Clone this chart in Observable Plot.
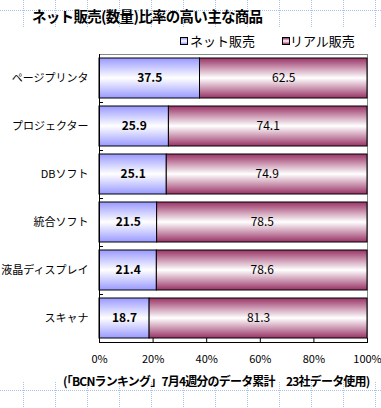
<!DOCTYPE html>
<html>
<head>
<meta charset="utf-8">
<script src="https://cdn.jsdelivr.net/npm/d3@7"></script>
<script src="https://cdn.jsdelivr.net/npm/@observablehq/plot@0.6"></script>
<style>
  html, body { margin: 0; padding: 0; background: #fff; }
  #wrap {
    position: relative; width: 381px; height: 408px; overflow: hidden;
    font-family: "Noto Sans CJK JP", sans-serif; color: #000;
    background-image:
      url("data:image/svg+xml,%3Csvg xmlns='http://www.w3.org/2000/svg' width='32' height='2'%3E%3Crect x='23' y='0' width='1' height='1' fill='%23a9c2ee'/%3E%3C/svg%3E"),
      url("data:image/svg+xml,%3Csvg xmlns='http://www.w3.org/2000/svg' width='2' height='20'%3E%3Crect x='0' y='10' width='1' height='1' fill='%23a9c2ee'/%3E%3C/svg%3E");
    background-repeat: repeat, repeat;
  }
  #sheet { position: absolute; left: 0; top: 28px; width: 381px; height: 354px; background: #fff; }
  #chart { position: absolute; left: 0; top: 0; }
  #title { position: absolute; left: 32px; top: 8px; font-size: 14.5px; font-weight: bold; line-height: 15px; white-space: nowrap; letter-spacing: -0.7px; }
  .leg { position: absolute; top: 34px; font-size: 13px; line-height: 13px; white-space: nowrap; }
  .sw { position: absolute; top: 37px; width: 6px; height: 6px; border: 1px solid #000; }
  #caption { position: absolute; left: 63px; top: 374px; font-size: 12px; font-weight: bold; line-height: 13px; white-space: nowrap; letter-spacing: -0.8px; }
</style>
</head>
<body>
<div id="wrap">
  <div id="sheet"></div>
  <div id="chart"></div>
  <div id="title"></div>
  <div class="sw" id="sw0"></div><div class="leg" id="lg0"></div>
  <div class="sw" id="sw1"></div><div class="leg" id="lg1"></div>
  <div id="caption"></div>
</div>
<script>
const titleText = "ネット販売(数量)比率の高い主な商品";
const captionText = "(「BCNランキング」7月4週分のデータ累計　23社データ使用)";
const seriesNames = ["ネット販売", "リアル販売"];
const categories = ["ページプリンタ", "プロジェクター", "DBソフト", "統合ソフト", "液晶ディスプレイ", "スキャナ"];
const netValues = [37.5, 25.9, 25.1, 21.5, 21.4, 18.7];
const realValues = [62.5, 74.1, 74.9, 78.5, 78.6, 81.3];
const xTicks = [0, 20, 40, 60, 80, 100];

const netColor = "#9999ff";
const realColor = "#993366";

const rows = categories.map((c, i) => ({category: c, net: netValues[i], real: realValues[i]}));

document.getElementById("title").textContent = titleText;
document.getElementById("caption").textContent = captionText;
document.getElementById("lg0").textContent = seriesNames[0];
document.getElementById("lg1").textContent = seriesNames[1];
const grad = c => `linear-gradient(to bottom, ${c}, #fff 50%, ${c})`;
Object.assign(document.getElementById("sw0").style, {left: "180px", background: grad(netColor)});
Object.assign(document.getElementById("lg0").style, {left: "190px"});
Object.assign(document.getElementById("sw1").style, {left: "282px", background: grad(realColor)});
Object.assign(document.getElementById("lg1").style, {left: "290px"});

const defs = () => {
  const d = d3.create("svg:defs");
  [["gNet", netColor], ["gReal", realColor]].forEach(([id, c]) => {
    const g = d.append("linearGradient").attr("id", id).attr("x1", 0).attr("y1", 0).attr("x2", 0).attr("y2", 1);
    g.append("stop").attr("offset", "0%").attr("stop-color", c);
    g.append("stop").attr("offset", "50%").attr("stop-color", "#fff");
    g.append("stop").attr("offset", "100%").attr("stop-color", c);
  });
  return d.node();
};

const chart = Plot.plot({
  width: 381,
  height: 408,
  marginLeft: 99,
  marginRight: 14,
  marginTop: 54,
  marginBottom: 66,
  style: {fontFamily: "'Noto Sans CJK JP', sans-serif", fontSize: "12px", color: "#000", background: "transparent", overflow: "visible"},
  x: {domain: [0, 100], ticks: xTicks, label: null},
  y: {domain: categories, paddingInner: 1/6, paddingOuter: 1/12, label: null},
  marks: [
    defs,
    Plot.frame({stroke: "#888"}),
    Plot.barX(rows, {y: "category", x1: 0, x2: "net", fill: "url(#gNet)", stroke: "#000", strokeWidth: 1}),
    Plot.barX(rows, {y: "category", x1: "net", x2: 100, fill: "url(#gReal)", stroke: "#000", strokeWidth: 1}),
    Plot.text(rows, {y: "category", x: d => d.net / 2, text: d => d.net.toFixed(1), fontWeight: "bold", fontSize: 12, fill: "#000"}),
    Plot.text(rows, {y: "category", x: d => d.net + d.real / 2, text: d => d.real.toFixed(1), fontSize: 12, fill: "#000"}),
    Plot.ruleY(categories, {y: d => d, x1: 0, x2: 1.5, dy: 24, stroke: "#000"}),
    Plot.ruleX([0], {stroke: "#000"}),
    Plot.frame({anchor: "bottom", stroke: "#000"}),
    Plot.axisX({ticks: xTicks, tickSize: -4, tickFormat: () => "", stroke: "#000", label: null}),
    Plot.text(xTicks, {x: d => d, frameAnchor: "bottom", dy: 20, text: d => d + "%", fontSize: 11, fill: "#000"}),
    Plot.axisY({tickSize: 0, tickPadding: 11, fontSize: 11, label: null, fill: "#000"})
  ]
});
chart.style.background = "transparent";
document.getElementById("chart").appendChild(chart);
</script>
</body>
</html>
